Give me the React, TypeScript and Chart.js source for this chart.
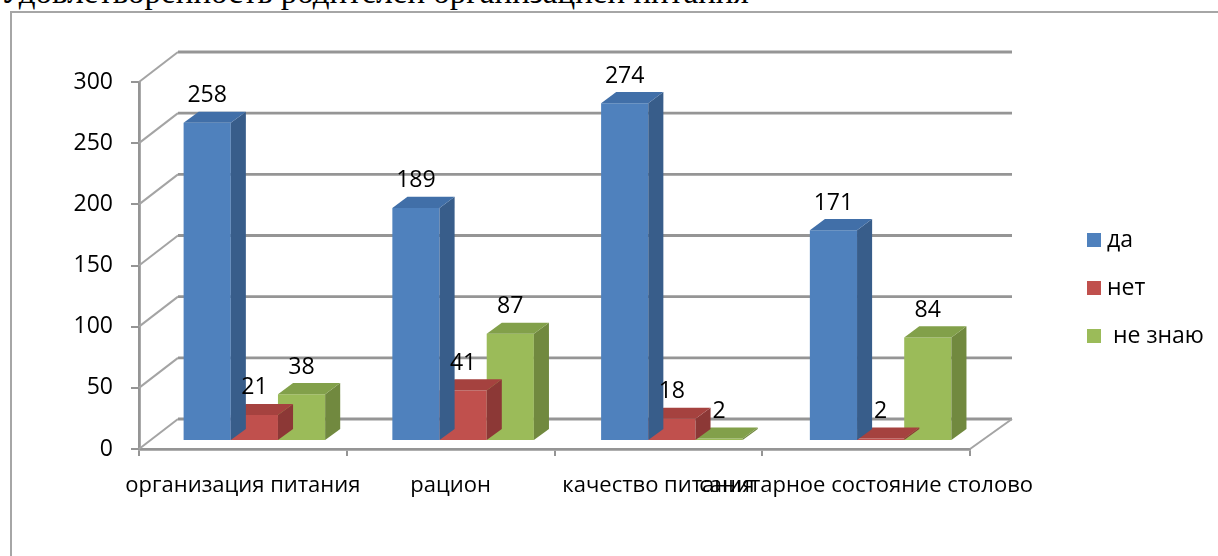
import React, { useEffect, useRef } from 'react';
import { Chart, registerables } from 'chart.js';

Chart.register(...registerables);

// ---------- data ----------
const titleText = 'Удовлетворенность родителей организацией питания';
const categories = ['организация питания', 'рацион', 'качество питания', 'санитарное состояние столово'];
const seriesNames = ['да', 'нет', ' не знаю'];
const daValues = [258, 189, 274, 171];
const netValues = [21, 41, 18, 2];
const neZnayuValues = [38, 87, 2, 84];
const yMin = 0;
const yMax = 300;
const yStep = 50;

// ---------- styles ----------
const FRONT = ['#4F81BD', '#C0504D', '#9BBB59'];
const SIDE = ['#385D8A', '#8C3836', '#71893F'];
const TOP = ['#416FA8', '#A5423F', '#82A04A'];
const FONT = '"Open Sans", sans-serif';
const GRID = '#959595';

const WALL_DX_L = 39;
const WALL_DX_R = 42;
const WALL_DY = 30;
const BAR_SHIFT_XL = 11;
const BAR_SHIFT_XR = 15;
const BAR_SHIFT_Y = 8;
const BAR_SCALE_Y = 1.008;
const BAR_DX = 15;
const BAR_DY = 11;
const LABEL_GAP = 27;

function wallDx(chart: any, x: number) {
  const { left, right } = chart.chartArea;
  return WALL_DX_L + ((x - left) / (right - left)) * (WALL_DX_R - WALL_DX_L);
}

function applyBarTransform(chart: any, ctx: CanvasRenderingContext2D) {
  const { left, right, bottom } = chart.chartArea;
  const a = 1 + (BAR_SHIFT_XR - BAR_SHIFT_XL) / (right - left);
  const e = left + BAR_SHIFT_XL - a * left;
  const d = BAR_SCALE_Y;
  const f = bottom - BAR_SHIFT_Y - d * bottom;
  ctx.transform(a, 0, 0, d, e, f);
}

function line(ctx: CanvasRenderingContext2D, x1: number, y1: number, x2: number, y2: number) {
  ctx.beginPath();
  ctx.moveTo(x1, y1);
  ctx.lineTo(x2, y2);
  ctx.stroke();
}

const wallPlugin = {
  id: 'wall3d',
  beforeDatasetsDraw(chart: any) {
    const ctx = chart.ctx as CanvasRenderingContext2D;
    const { left, right, bottom } = chart.chartArea;
    const yScale = chart.scales.y;
    const dxl = wallDx(chart, left);
    const dxr = wallDx(chart, right);
    ctx.save();
    ctx.lineCap = 'butt';
    for (const t of yScale.ticks) {
      const py = yScale.getPixelForValue(t.value);
      ctx.strokeStyle = '#a4a4a4';
      ctx.lineWidth = 2;
      line(ctx, left, py, left + dxl, py - WALL_DY);
      ctx.strokeStyle = GRID;
      ctx.lineWidth = 2.8;
      line(ctx, left + dxl, py - WALL_DY, right + dxr, py - WALL_DY);
    }
    ctx.strokeStyle = '#a4a4a4';
    ctx.lineWidth = 2;
    line(ctx, right, bottom, right + dxr, bottom - WALL_DY);
    ctx.restore();
  },
  beforeDatasetDraw(chart: any) {
    const ctx = chart.ctx as CanvasRenderingContext2D;
    ctx.save();
    applyBarTransform(chart, ctx);
  },
  afterDatasetDraw(chart: any, args: any) {
    const ctx = chart.ctx as CanvasRenderingContext2D;
    const di = args.index;
    for (const el of args.meta.data) {
      const p = el.getProps(['x', 'y', 'base', 'width'], true);
      const l = p.x - p.width / 2;
      const r = p.x + p.width / 2;
      const top = Math.min(p.y, p.base);
      const bot = Math.max(p.y, p.base);
      ctx.fillStyle = SIDE[di];
      ctx.beginPath();
      ctx.moveTo(r, top);
      ctx.lineTo(r + BAR_DX, top - BAR_DY);
      ctx.lineTo(r + BAR_DX, bot - BAR_DY);
      ctx.lineTo(r, bot);
      ctx.closePath();
      ctx.fill();
      ctx.fillStyle = TOP[di];
      ctx.beginPath();
      ctx.moveTo(l, top);
      ctx.lineTo(l + BAR_DX, top - BAR_DY);
      ctx.lineTo(r + BAR_DX, top - BAR_DY);
      ctx.lineTo(r, top);
      ctx.closePath();
      ctx.fill();
    }
    ctx.restore();
  },
  afterDatasetsDraw(chart: any) {
    const ctx = chart.ctx as CanvasRenderingContext2D;
    ctx.save();
    applyBarTransform(chart, ctx);
    ctx.fillStyle = '#000';
    ctx.font = `23px ${FONT}`;
    ctx.textAlign = 'center';
    ctx.textBaseline = 'middle';
    chart.data.datasets.forEach((ds: any, di: number) => {
      const meta = chart.getDatasetMeta(di);
      meta.data.forEach((el: any, i: number) => {
        const p = el.getProps(['x', 'y'], true);
        ctx.fillText(String(ds.data[i]), p.x, p.y - LABEL_GAP);
      });
    });
    ctx.restore();
  },
  afterDraw(chart: any) {
    const ctx = chart.ctx as CanvasRenderingContext2D;
    ctx.save();
    ctx.font = `23px ${FONT}`;
    ctx.textBaseline = 'middle';
    ctx.textAlign = 'left';
    chart.data.datasets.forEach((ds: any, di: number) => {
      const cy = 240 + di * 48;
      ctx.fillStyle = FRONT[di];
      ctx.fillRect(1087, cy - 7, 14, 14);
      ctx.fillStyle = '#000';
      ctx.fillText(ds.label, 1107, cy);
    });
    ctx.restore();
  },
};

export default function App() {
  const ref = useRef<HTMLCanvasElement | null>(null);

  useEffect(() => {
    if (!ref.current) return;
    const seriesValues = [daValues, netValues, neZnayuValues];
    const chart = new Chart(ref.current, {
      type: 'bar',
      data: {
        labels: categories,
        datasets: seriesNames.map((name, i) => ({
          label: name,
          data: seriesValues[i],
          backgroundColor: FRONT[i],
          borderWidth: 0,
          categoryPercentage: 0.678,
          barPercentage: 1,
          clip: false as any,
        })),
      },
      options: {
        responsive: false,
        animation: false,
        devicePixelRatio: 1,
        layout: { padding: { left: 60, top: 82, right: 248, bottom: 57 } },
        plugins: {
          legend: { display: false },
          tooltip: { enabled: false },
          title: { display: false },
        },
        scales: {
          x: {
            offset: true,
            grid: {
              offset: true,
              drawOnChartArea: false,
              drawTicks: true,
              tickLength: 7,
              color: GRID,
              lineWidth: 2,
            },
            border: { display: true, color: GRID, width: 2.8 },
            ticks: {
              autoSkip: false,
              maxRotation: 0,
              minRotation: 0,
              padding: 17,
              color: '#000',
              font: { family: FONT, size: 22 },
            },
            afterFit: (scale: any) => {
              scale.height = 50;
            },
          },
          y: {
            min: yMin,
            max: yMax,
            grid: {
              drawOnChartArea: false,
              drawTicks: true,
              tickLength: 8,
              color: GRID,
              lineWidth: 2,
            },
            border: { display: true, color: GRID, width: 2.8 },
            ticks: {
              stepSize: yStep,
              padding: 18,
              color: '#000',
              font: { family: FONT, size: 23 },
            },
            afterFit: (scale: any) => {
              scale.width = 79;
            },
          },
        },
      },
      plugins: [wallPlugin],
    });
    return () => chart.destroy();
  }, []);

  return (
    <div
      style={{
        position: 'absolute',
        left: 0,
        top: 0,
        width: 1218,
        height: 556,
        overflow: 'hidden',
        background: '#fff',
      }}
    >
      <div
        style={{
          position: 'absolute',
          left: 0,
          top: -24,
          whiteSpace: 'nowrap',
          fontFamily: '"Liberation Serif", "Times New Roman", serif',
          fontSize: 33,
          lineHeight: '33px',
          color: '#000',
        }}
      >
        {titleText}
      </div>
      <div
        style={{
          position: 'absolute',
          left: 10,
          top: 11,
          width: 1400,
          height: 800,
          border: '2px solid #a6a6a6',
        }}
      />
      <canvas ref={ref} width={1218} height={556} style={{ position: 'absolute', left: 0, top: 0 }} />
    </div>
  );
}
